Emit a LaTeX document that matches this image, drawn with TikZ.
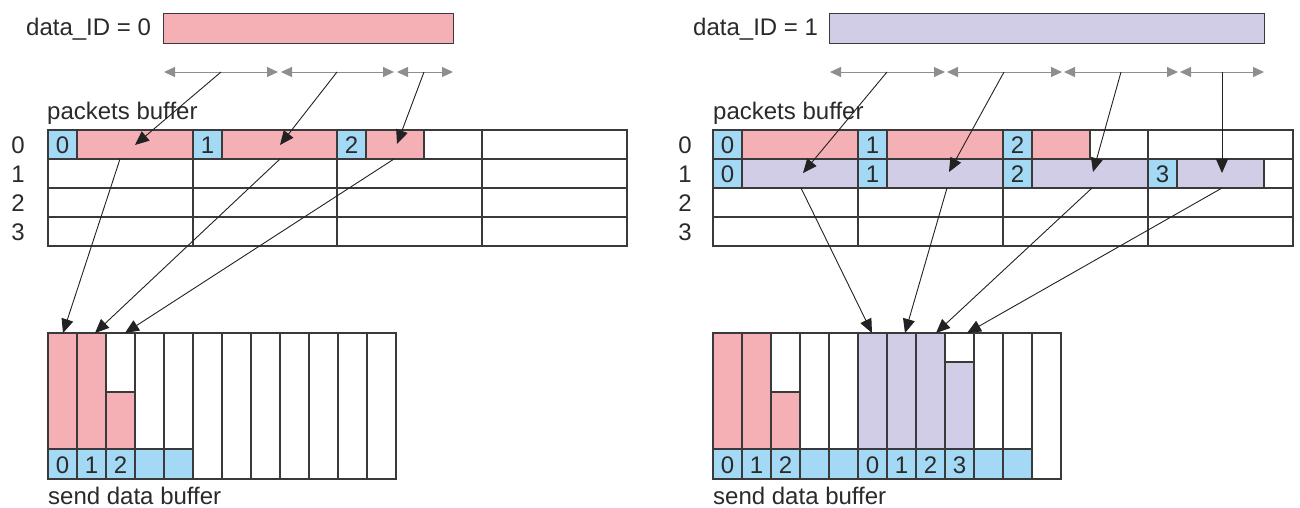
\documentclass[tikz,border=0pt]{standalone}
\usepackage{fontspec}
\setmainfont{Liberation Sans}
\usetikzlibrary{arrows.meta}
\definecolor{pk}{HTML}{F4B0B5}
\definecolor{pu}{HTML}{D1CDE6}
\definecolor{bl}{HTML}{A3D9F5}
\definecolor{bd}{HTML}{3A3A3A}
\definecolor{gr}{HTML}{8E8E8E}
\definecolor{ar}{HTML}{222222}
\definecolor{tx}{HTML}{2A2A2A}
\begin{document}
\begin{tikzpicture}[x=1pt,y=-1pt,
  cell/.style={draw=bd, line width=1.4pt},
  lbl/.style={anchor=base, inner sep=0pt, font=\fontsize{24}{28}\selectfont, text=tx},
  ttl/.style={anchor=base west, inner sep=0pt, font=\fontsize{24}{28}\selectfont, text=tx},
  ptr/.style={draw=ar, line width=0.9pt, -{Triangle[length=14pt,width=12pt]}},
  seg/.style={draw=gr, line width=1pt, {Triangle[length=11pt,width=10pt]}-{Triangle[length=11pt,width=10pt]}}]
\useasboundingbox (0,0) rectangle (1300,507);

% ================= LEFT PANEL =================
\node[ttl] (t0) at (26,35) {data\_ID = 0};
\path[cell, fill=pk, line width=1pt] (163,13) rectangle (453,43);
\coordinate (L1a) at (164,72); \coordinate (L1b) at (278,72);
\coordinate (L2a) at (281,72); \coordinate (L2b) at (394,72);
\coordinate (L3a) at (397,72); \coordinate (L3b) at (453,72);
\draw[seg] (L1a) -- (L1b);
\draw[seg] (L2a) -- (L2b);
\draw[seg] (L3a) -- (L3b);
\node[ttl] (pbL) at (47,119) {packets buffer};

% packets buffer grid (left)
\foreach \a/\b/\c in {48/77/bl,77/193/pk,193/222/bl,222/337/pk,337/366/bl,366/424/pk,424/482/white,482/627/white}
  \path[cell, fill=\c] (\a,130) rectangle (\b,159);
\foreach \r in {159,188,217}
  \foreach \a/\b in {48/193,193/337,337/482,482/627}
    \path[cell] (\a,\r) rectangle (\b,\r+29);
\foreach \r/\t [count=\k from 0] in {153/0,182/1,211/2,240/3}
  \node[lbl] (rL\k) at (18,\r) {\t};
\node[lbl] (cL0) at (62.5,153) {0};
\node[lbl] (cL1) at (207.5,153) {1};
\node[lbl] (cL2) at (351.5,153) {2};

% send data buffer (left)
\foreach \i in {0,1} \path[cell, fill=pk] (48+29*\i,333) rectangle (77+29*\i,449);
\path[cell, fill=pk] (106,392) rectangle (135,449);
\foreach \i in {0,...,4} \path[cell, fill=bl] (48+29*\i,449) rectangle (77+29*\i,479);
\foreach \i in {0,...,11} \path[cell] (48+29*\i,333) rectangle (77+29*\i,479);
\node[lbl] (sL0) at (62.5,473) {0};
\node[lbl] (sL1) at (91.5,473) {1};
\node[lbl] (sL2) at (120.5,473) {2};
\node[ttl, text depth=0pt] (sbL) at (48,504) {send data buffer};

% arrows (left)
\coordinate (LpA) at (221,72);  \coordinate (LqA) at (135,145);
\coordinate (LpB) at (337,72);  \coordinate (LqB) at (280,145);
\coordinate (LpC) at (424,72);  \coordinate (LqC) at (397,144);
\draw[ptr] (LpA) -- (LqA);
\draw[ptr] (LpB) -- (LqB);
\draw[ptr] (LpC) -- (LqC);
\coordinate (LrA) at (120,159); \coordinate (LsA) at (63,333);
\coordinate (LrB) at (280,159); \coordinate (LsB) at (95,333);
\coordinate (LrC) at (394,159); \coordinate (LsC) at (125,333);
\draw[ptr] (LrA) -- (LsA);
\draw[ptr] (LrB) -- (LsB);
\draw[ptr] (LrC) -- (LsC);

% ================= RIGHT PANEL =================
\node[ttl] (t1) at (693,35) {data\_ID = 1};
\path[cell, fill=pu, line width=1pt] (829,13) rectangle (1264,43);
\coordinate (R1a) at (830,72);  \coordinate (R1b) at (945,72);
\coordinate (R2a) at (947,72);  \coordinate (R2b) at (1062,72);
\coordinate (R3a) at (1064,72); \coordinate (R3b) at (1178,72);
\coordinate (R4a) at (1180,72); \coordinate (R4b) at (1264,72);
\draw[seg] (R1a) -- (R1b);
\draw[seg] (R2a) -- (R2b);
\draw[seg] (R3a) -- (R3b);
\draw[seg] (R4a) -- (R4b);
\node[ttl] (pbR) at (713,119) {packets buffer};

% packets buffer grid (right)
\foreach \a/\b/\c in {713/742/bl,742/858/pk,858/887/bl,887/1003/pk,1003/1032/bl,1032/1090/pk,1090/1148/white,1148/1293/white}
  \path[cell, fill=\c] (\a,130) rectangle (\b,159);
\foreach \a/\b/\c in {713/742/bl,742/858/pu,858/887/bl,887/1003/pu,1003/1032/bl,1032/1148/pu,1148/1177/bl,1177/1264/pu,1264/1293/white}
  \path[cell, fill=\c] (\a,159) rectangle (\b,188);
\foreach \r in {188,217}
  \foreach \a/\b in {713/858,858/1003,1003/1148,1148/1293}
    \path[cell] (\a,\r) rectangle (\b,\r+29);
\foreach \r/\t [count=\k from 0] in {153/0,182/1,211/2,240/3}
  \node[lbl] (rR\k) at (685,\r) {\t};
\node[lbl] (cR0) at (727.5,153) {0};
\node[lbl] (cR1) at (872.5,153) {1};
\node[lbl] (cR2) at (1017.5,153) {2};
\node[lbl] (dR0) at (727.5,182) {0};
\node[lbl] (dR1) at (872.5,182) {1};
\node[lbl] (dR2) at (1017.5,182) {2};
\node[lbl] (dR3) at (1162.5,182) {3};

% send data buffer (right)
\foreach \i in {0,1} \path[cell, fill=pk] (713+29*\i,333) rectangle (742+29*\i,449);
\path[cell, fill=pk] (771,392) rectangle (800,449);
\foreach \i in {5,6,7} \path[cell, fill=pu] (713+29*\i,333) rectangle (742+29*\i,449);
\path[cell, fill=pu] (945,362) rectangle (974,449);
\foreach \i in {0,...,10} \path[cell, fill=bl] (713+29*\i,449) rectangle (742+29*\i,479);
\foreach \i in {0,...,11} \path[cell] (713+29*\i,333) rectangle (742+29*\i,479);
\node[lbl] (sR0) at (727.5,473) {0};
\node[lbl] (sR1) at (756.5,473) {1};
\node[lbl] (sR2) at (785.5,473) {2};
\node[lbl] (sR5) at (872.5,473) {0};
\node[lbl] (sR6) at (901.5,473) {1};
\node[lbl] (sR7) at (930.5,473) {2};
\node[lbl] (sR8) at (959.5,473) {3};
\node[ttl, text depth=0pt] (sbR) at (713,504) {send data buffer};

% arrows (right)
\coordinate (RpA) at (887,72);  \coordinate (RqA) at (803,173);
\coordinate (RpB) at (1004,72); \coordinate (RqB) at (949,172);
\coordinate (RpC) at (1121,72); \coordinate (RqC) at (1093,172);
\coordinate (RpD) at (1222,72); \coordinate (RqD) at (1222,173);
\draw[ptr] (RpA) -- (RqA);
\draw[ptr] (RpB) -- (RqB);
\draw[ptr] (RpC) -- (RqC);
\draw[ptr] (RpD) -- (RqD);
\coordinate (RrA) at (801,188);  \coordinate (RsA) at (872,333);
\coordinate (RrB) at (947,188);  \coordinate (RsB) at (905,333);
\coordinate (RrC) at (1092,188); \coordinate (RsC) at (936,333);
\coordinate (RrD) at (1222,188); \coordinate (RsD) at (967,333);
\draw[ptr] (RrA) -- (RsA);
\draw[ptr] (RrB) -- (RsB);
\draw[ptr] (RrC) -- (RsC);
\draw[ptr] (RrD) -- (RsD);
\end{tikzpicture}
\end{document}
